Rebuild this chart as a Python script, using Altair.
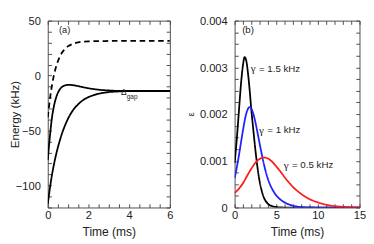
import altair as alt
import pandas as pd

# ---------------- Panel (a): energies vs time ----------------
t_dash = [0, 0.1, 0.2, 0.3, 0.4, 0.5, 0.6, 0.8, 1.0, 1.2, 1.5, 2.0, 2.5, 3.0, 4.0, 6.0]
e_dash = [-38, -22.3, -9.5, 0.2, 7.6, 13.2, 17.6, 23.4, 26.8, 28.7, 30.3, 31.2, 31.4, 31.5, 31.5, 31.5]

t_up = [0, 0.05, 0.1, 0.15, 0.2, 0.3, 0.4, 0.5, 0.6, 0.7, 0.85, 1.0, 1.2, 1.5, 1.8, 2.1, 2.5, 3.0, 3.5, 4.0, 6.0]
e_up = [-77, -66, -56, -47, -39, -28, -20.5, -15.5, -12.3, -10.3, -8.9, -8.4, -8.6, -9.6, -10.8, -11.8, -12.8, -13.5, -13.9, -14, -14]

t_low = [0, 0.1, 0.2, 0.3, 0.4, 0.5, 0.6, 0.7, 0.8, 0.9, 1.0, 1.2, 1.5, 1.8, 2.1, 2.5, 3.0, 3.5, 4.0, 5.0, 6.0]
e_low = [-117, -103, -91, -81, -72.5, -65, -58.5, -52.5, -47.5, -43, -39, -32.5, -26, -21.5, -18.8, -16.5, -15, -14.4, -14.1, -14, -14]

# ---------------- Panel (b): epsilon vs time ----------------
t_g15 = [0, 0.25, 0.5, 0.75, 1.0, 1.2, 1.4, 1.6, 1.8, 2.0, 2.25, 2.5, 2.75, 3.0, 3.25, 3.5, 4.0, 4.5, 5.0, 6.0, 15.0]
eps_g15 = [0.00095, 0.00145, 0.00203, 0.00262, 0.00305, 0.00322, 0.00314, 0.00288, 0.00252, 0.00210, 0.00165,
           0.00122, 0.00085, 0.00056, 0.00036, 0.00022, 0.00008, 0.00003, 0.00001, 0.0, 0.0]

t_g10 = [0, 0.25, 0.5, 0.75, 1.0, 1.25, 1.5, 1.8, 2.0, 2.25, 2.5, 2.75, 3.0, 3.25, 3.5, 3.75, 4.0, 4.5,
         5.0, 5.5, 6.0, 7.0, 8.0, 10.0, 15.0]
eps_g10 = [0.00063, 0.00085, 0.00110, 0.00138, 0.00165, 0.00190, 0.00207, 0.00215, 0.00212, 0.00200, 0.00182,
           0.00160, 0.00137, 0.00115, 0.00094, 0.00076, 0.00061, 0.00040, 0.00026, 0.00017, 0.00011, 0.00004,
           0.00001, 0.0, 0.0]

t_g05 = [0, 0.5, 1.0, 1.5, 2.0, 2.5, 3.0, 3.5, 4.0, 4.5, 5.0, 5.5, 6.0, 6.5, 7.0, 7.5, 8.0, 9.0, 10.0,
         11.0, 12.0, 13.0, 14.0, 15.0]
eps_g05 = [0.00031, 0.00040, 0.00052, 0.00068, 0.00083, 0.00096, 0.00104, 0.00107, 0.00105, 0.00098, 0.00088,
           0.00077, 0.00065, 0.00054, 0.00044, 0.00036, 0.00029, 0.00018, 0.00011, 0.00006, 0.00003,
           0.000015, 0.000007, 0.000003]

# tick values
xa_ticks = [i * 0.5 for i in range(13)]
ya_ticks = list(range(-120, 51, 10))
xb_ticks = list(range(0, 16))
yb_ticks = [i * 0.00025 for i in range(17)]

# annotations
ann_a_text = ["(a)"]
ann_a_x = [0.55]
ann_a_y = [41]
delta_x = [3.6]
delta_y = [-15.5]
gap_x = [3.88]
gap_y = [-20]

ann_b_text = ["(b)", "= 1.5 kHz", "= 1 kHz", "= 0.5 kHz"]
gamma_x = [1.92, 2.92, 5.89]
ann_b_x = [0.9, 2.92, 3.92, 6.89]
ann_b_y = [0.00379, 0.00297, 0.00166, 0.00091]

FONT = "Liberation Sans"
TXT = "#222222"
FRAME = "#444444"

rows = []
for name, ts, es in [("dash", t_dash, e_dash), ("up", t_up, e_up), ("low", t_low, e_low)]:
    for t, e in zip(ts, es):
        rows.append({"t": t, "v": e, "s": name})
df_a = pd.DataFrame(rows)

rows = []
for name, ts, es in [("g15", t_g15, eps_g15), ("g10", t_g10, eps_g10), ("g05", t_g05, eps_g05)]:
    for t, e in zip(ts, es):
        rows.append({"t": t, "v": e, "s": name})
df_b = pd.DataFrame(rows)


def major_expr(step, eps):
    return f"abs(datum.value/{step} - round(datum.value/{step})) < {eps}"


def axis(orient, values, step, fmt, labels=True, title=None, tick=-4, label_pad=12, **kw):
    test = major_expr(step, 1e-6)
    args = dict(
        orient=orient,
        values=values,
        grid=False,
        domainColor=FRAME,
        domainWidth=1,
        tickColor=FRAME,
        tickSize=alt.ExprRef(expr=f"{tick}"),
        tickWidth=1,
        labels=labels,
        labelFont=FONT,
        labelFontSize=12,
        labelColor=TXT,
        labelPadding=label_pad,
        labelFlush=False,
        labelOverlap=False,
        titleFont=FONT,
        titleFontSize=13,
        titleFontWeight="normal",
        titleColor=TXT,
    )
    if labels:
        args["labelExpr"] = f"({test}) ? format(datum.value, '{fmt}') : ''"
    args["title"] = title
    args.update(kw)
    return alt.Axis(**args)


def sc(dom):
    return alt.Scale(domain=dom, nice=False, zero=False, padding=0)


def panel(df, xdom, ydom, xt, yt, xstep, ystep, yfmt, ytitle, colors, dashes, order, width, height,
          texts, ytitle_kw):
    lines = alt.Chart(df).mark_line(strokeWidth=1.9, interpolate="monotone", clip=True).encode(
        x=alt.X("t:Q", scale=sc(xdom), axis=axis("bottom", xt, xstep, "d", title="Time (ms)", label_pad=7, titlePadding=6)),
        y=alt.Y("v:Q", scale=sc(ydom), axis=axis("left", yt, ystep, yfmt, title=ytitle, **ytitle_kw)),
        color=alt.Color("s:N", scale=alt.Scale(domain=order, range=colors), legend=None),
        strokeDash=alt.StrokeDash("s:N", scale=alt.Scale(domain=order, range=dashes), legend=None),
    )
    frame = alt.Chart(df).mark_line(opacity=0).encode(
        x=alt.X("t:Q", scale=sc(xdom), axis=axis("top", xt, xstep, "d", labels=False)),
        y=alt.Y("v:Q", scale=sc(ydom), axis=axis("right", yt, ystep, yfmt, labels=False)),
    )
    layers = [lines, frame] + texts
    return alt.layer(*layers).resolve_axis(x="independent", y="independent").properties(
        width=width, height=height)


def text_layer(df, size, xs_dom, ys_dom, font=FONT, baseline="middle"):
    return alt.Chart(df).mark_text(align="left", baseline=baseline, font=font, fontSize=size, color=TXT).encode(
        x=alt.X("x:Q", scale=sc(xs_dom), axis=None),
        y=alt.Y("y:Q", scale=sc(ys_dom), axis=None),
        text="label:N",
    )


xa_dom = [0, 6]
ya_dom = [-120, 50]
xb_dom = [0, 15]
yb_dom = [0, 0.004]

ta1 = text_layer(pd.DataFrame({"label": ann_a_text, "x": ann_a_x, "y": ann_a_y}), 10, xa_dom, ya_dom)
ta2 = text_layer(pd.DataFrame({"label": ["Δ"], "x": delta_x, "y": delta_y}), 9, xa_dom, ya_dom)
ta3 = text_layer(pd.DataFrame({"label": ["gap"], "x": gap_x, "y": gap_y}), 7, xa_dom, ya_dom)
tb = text_layer(pd.DataFrame({"label": ann_b_text, "x": ann_b_x, "y": ann_b_y}), 10.5, xb_dom, yb_dom)
tg = text_layer(pd.DataFrame({"label": ["γ", "γ", "γ"], "x": gamma_x, "y": ann_b_y[1:]}), 12, xb_dom, yb_dom,
                font="Liberation Serif")

left = panel(df_a, xa_dom, ya_dom, xa_ticks, ya_ticks, 2, 50, "d", "Energy (kHz)",
             ["#000000", "#000000", "#000000"], [[6, 4], [1, 0], [1, 0]], ["dash", "up", "low"],
             132, 202, [ta1, ta2, ta3], {"titlePadding": -6, "titleFontSize": 12.5})
right = panel(df_b, xb_dom, yb_dom, xb_ticks, yb_ticks, 5, 0.001, ".3~f", "ε",
              ["#000000", "#1f1fff", "#ff1a1a"], [[1, 0], [1, 0], [1, 0]], ["g15", "g10", "g05"],
              135, 202, [tb, tg], {"titlePadding": 4, "titleFontSize": 10})

chart = (alt.hconcat(left, right, spacing=13)
         .resolve_scale(color="independent", strokeDash="independent")
         .properties(padding={"left": 0, "top": -2, "right": 0, "bottom": 0})
         .configure_view(stroke=None))
chart.save("out.html", embed_options={"renderer": "svg", "actions": False})
